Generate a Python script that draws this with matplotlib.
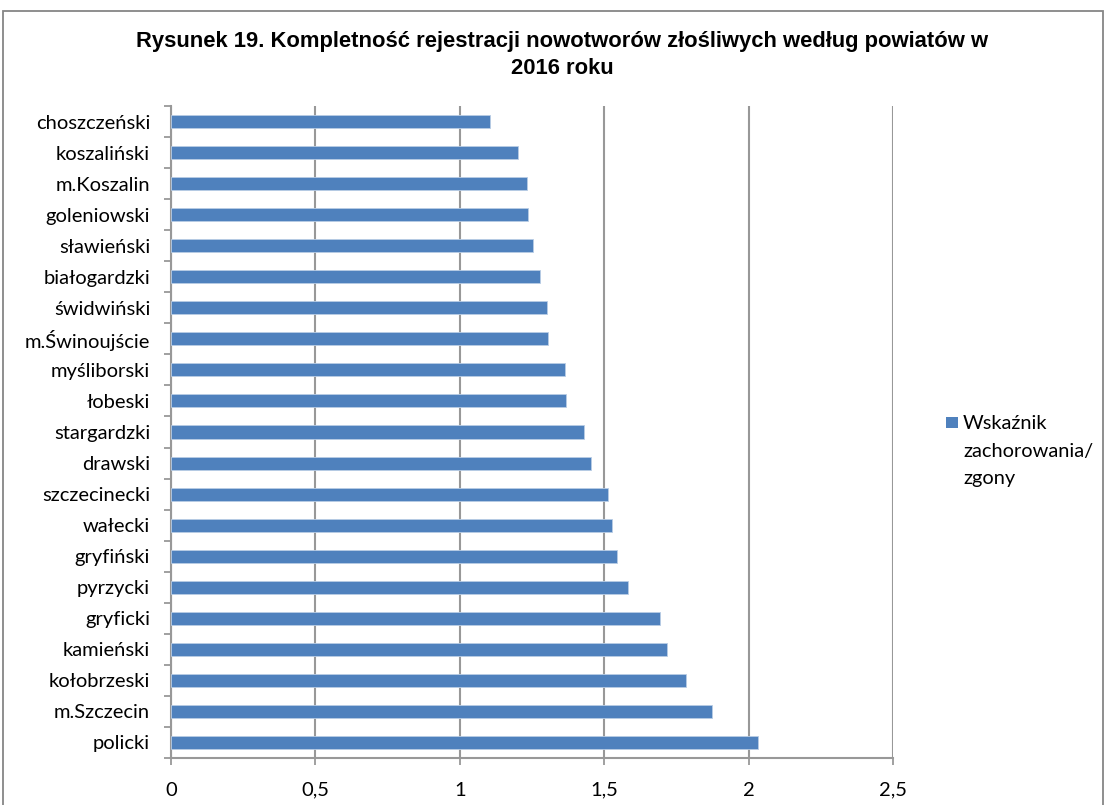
import matplotlib
matplotlib.use("Agg")
import matplotlib.pyplot as plt
from matplotlib.patches import Rectangle

categories = ["choszczeński", "koszaliński", "m.Koszalin", "goleniowski", "sławieński",
              "białogardzki", "świdwiński", "m.Świnoujście", "myśliborski", "łobeski",
              "stargardzki", "drawski", "szczecinecki", "wałecki", "gryfiński",
              "pyrzycki", "gryficki", "kamieński", "kołobrzeski", "m.Szczecin", "policki"]
values = [1.106, 1.200, 1.232, 1.237, 1.253, 1.279, 1.301, 1.306, 1.364, 1.368,
          1.431, 1.455, 1.514, 1.527, 1.545, 1.584, 1.692, 1.717, 1.784, 1.873, 2.034]
xticks = [0, 0.5, 1, 1.5, 2, 2.5]
xticklabels = ["0", "0,5", "1", "1,5", "2", "2,5"]
title = "Rysunek 19. Kompletność rejestracji nowotworów złośliwych według powiatów w\n2016 roku"
legend_label = "Wskaźnik\nzachorowania/\nzgony"

W, H = 1106, 805
fig = plt.figure(figsize=(W / 100, H / 100), dpi=100)
fig.patch.set_facecolor("white")

# outer chart border
fig.patches.append(Rectangle((3 / W, -0.01), (W - 6) / W, 1 - 11 / H + 0.01,
                             transform=fig.transFigure, fill=False,
                             edgecolor="#868686", linewidth=1.3))

left, right, top, bottom = 171, 893, 106, 758
ax = fig.add_axes([left / W, 1 - bottom / H, (right - left) / W, (bottom - top) / H])

n = len(categories)
ypos = list(range(n))
ax.barh(ypos, values, height=0.42, color="#4F81BD", edgecolor="#B9CDE5",
        linewidth=0.6, zorder=3)
ax.set_ylim(n - 0.5, -0.5)
ax.set_xlim(0, 2.5)

grey = "#989898"
ax.set_xticks(xticks)
ax.set_xticklabels(xticklabels, fontname="Lato", fontsize=14.5)
ax.xaxis.grid(True, color=grey, linewidth=1.5, zorder=0)
for s in ["top", "right"]:
    ax.spines[s].set_visible(False)
for s in ["left", "bottom"]:
    ax.spines[s].set_color(grey)
    ax.spines[s].set_linewidth(1.5)
ax.tick_params(axis="x", length=5, width=1.3, color=grey, direction="out", pad=12)

# y ticks at category boundaries, labels at centres
ax.set_yticks([i - 0.5 for i in range(n + 1)])
ax.set_yticklabels([])
ax.set_yticks(ypos, minor=True)
ax.set_yticklabels(categories, minor=True, fontname="Lato", fontsize=14.5)
ax.tick_params(axis="y", which="major", length=5, width=1.3, color=grey, direction="out")
ax.tick_params(axis="y", which="minor", length=0, pad=15)

fig.text(562 / W, 1 - 55 / H, title, ha="center", va="center",
         fontname="Liberation Sans", fontweight="bold", fontsize=15.8, linespacing=1.32)

# legend
fig.patches.append(Rectangle((946 / W, 1 - 428 / H), 12 / W, 11 / H,
                             transform=fig.transFigure, facecolor="#4F81BD",
                             edgecolor="none"))
for i, line in enumerate(legend_label.split("\n")):
    fig.text(963 / W, 1 - (429 + 27.5 * i) / H, line, ha="left", va="baseline",
             fontname="Lato", fontsize=14.4)

fig.savefig("out.png", dpi=100)
